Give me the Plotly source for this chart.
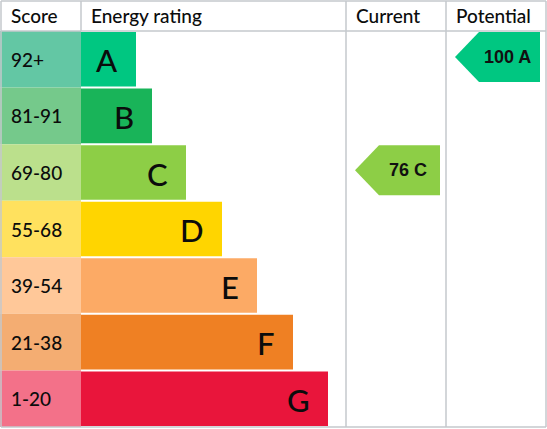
import plotly.graph_objects as go

# EPC bands, top (best) to bottom
bands = ["A", "B", "C", "D", "E", "F", "G"]
score_ranges = ["92+", "81-91", "69-80", "55-68", "39-54", "21-38", "1-20"]
band_min = [92, 81, 69, 55, 39, 21, 1]
bar_length = [55, 71, 105, 141, 176, 212, 247]
bar_colors = ["#00c781", "#19b459", "#8dce46", "#ffd500", "#fcaa65", "#ef8023", "#e9153b"]
cell_colors = ["#63c7a4", "#75c98b", "#bbe08c", "#ffe15e", "#ffc899", "#f4ad72", "#f37189"]

headers = ["Score", "Energy rating", "Current", "Potential"]
current_score = 76
potential_score = 100

# column edges (x axis runs in pixel-like units)
col_edges = [1, 81, 346, 446, 546]
ROW_PX = 396 / 7  # pixel height of one band row


def band_of(score):
    for i, m in enumerate(band_min):
        if score >= m:
            return i
    return len(bands) - 1


rows = list(range(len(bands)))
fig = go.Figure()

# score column cells
fig.add_trace(go.Bar(
    y=rows, x=[col_edges[1] - col_edges[0] + 1] * len(rows), base=0,
    orientation="h", width=1.0, marker=dict(color=cell_colors, line_width=0),
    hoverinfo="skip", showlegend=False,
))
# rating bars
fig.add_trace(go.Bar(
    y=rows, x=bar_length, base=col_edges[1],
    orientation="h", width=0.965, marker=dict(color=bar_colors, line_width=0),
    hoverinfo="skip", showlegend=False,
))


def add_arrow(score, col):
    r = band_of(score)
    left = col_edges[col] + 9
    right = col_edges[col + 1] - 6
    top = r - 0.5 + 1 / ROW_PX
    bottom = top + 50 / ROW_PX
    mid = (top + bottom) / 2
    neck = left + 24
    fig.add_trace(go.Scatter(
        x=[left, neck, right, right, neck, left],
        y=[mid, top, top, bottom, bottom, mid],
        fill="toself", fillcolor=bar_colors[r], mode="lines", line_width=0,
        hoverinfo="skip", showlegend=False,
    ))
    fig.add_annotation(
        x=(neck + right) / 2 - 2, y=mid, text=f"<b>{score} {bands[r]}</b>",
        showarrow=False, xanchor="center", yanchor="middle",
        font=dict(family="Liberation Sans, Arial", size=18, color="#111111"),
    )


add_arrow(current_score, 2)
add_arrow(potential_score, 3)

font_main = "Lato, Noto Sans, sans-serif"
header_y = -0.5 - 15.5 / ROW_PX
for i, h in enumerate(headers):
    fig.add_annotation(
        x=col_edges[i] + 8, y=header_y, text=h, showarrow=False,
        xanchor="left", yanchor="middle",
        font=dict(family=font_main, size=19, color="#0b0c0c", weight=500),
    )

for r in rows:
    fig.add_annotation(
        x=col_edges[0] + 8, y=r, text=score_ranges[r], showarrow=False,
        xanchor="left", yanchor="middle",
        font=dict(family=font_main, size=19, color="#0b0c0c", weight=500),
    )
    fig.add_annotation(
        x=col_edges[1] + bar_length[r] - 16, y=r + 0.02, text=bands[r], showarrow=False,
        xanchor="right", yanchor="middle",
        font=dict(family=font_main, size=31, color="#0b0c0c", weight=500),
    )

# grid lines
grid = dict(color="#c4c8cc", width=1.5)
y_top = -0.5 - 30 / ROW_PX
y_bot = 6.5
y_head = -0.5
for xe in [col_edges[0], col_edges[2], col_edges[3], col_edges[4]]:
    fig.add_shape(type="line", x0=xe, x1=xe, y0=y_top, y1=y_bot, line=grid, layer="above")
fig.add_shape(type="line", x0=col_edges[1], x1=col_edges[1], y0=y_top, y1=y_head, line=grid)
for ye in [y_top, y_head, y_bot]:
    fig.add_shape(type="line", x0=col_edges[0], x1=col_edges[4], y0=ye, y1=ye, line=grid)

fig.update_layout(
    width=547, height=429, margin=dict(l=0, r=0, t=0, b=0),
    paper_bgcolor="white", plot_bgcolor="white", barmode="overlay",
    xaxis=dict(range=[0, 547], visible=False, fixedrange=True),
    yaxis=dict(range=[6.5 + 2 / ROW_PX, -0.5 - 31 / ROW_PX], visible=False, fixedrange=True),
)

fig.write_html("out.html", config={"displayModeBar": False},
               post_script="document.body.style.margin='0';")
